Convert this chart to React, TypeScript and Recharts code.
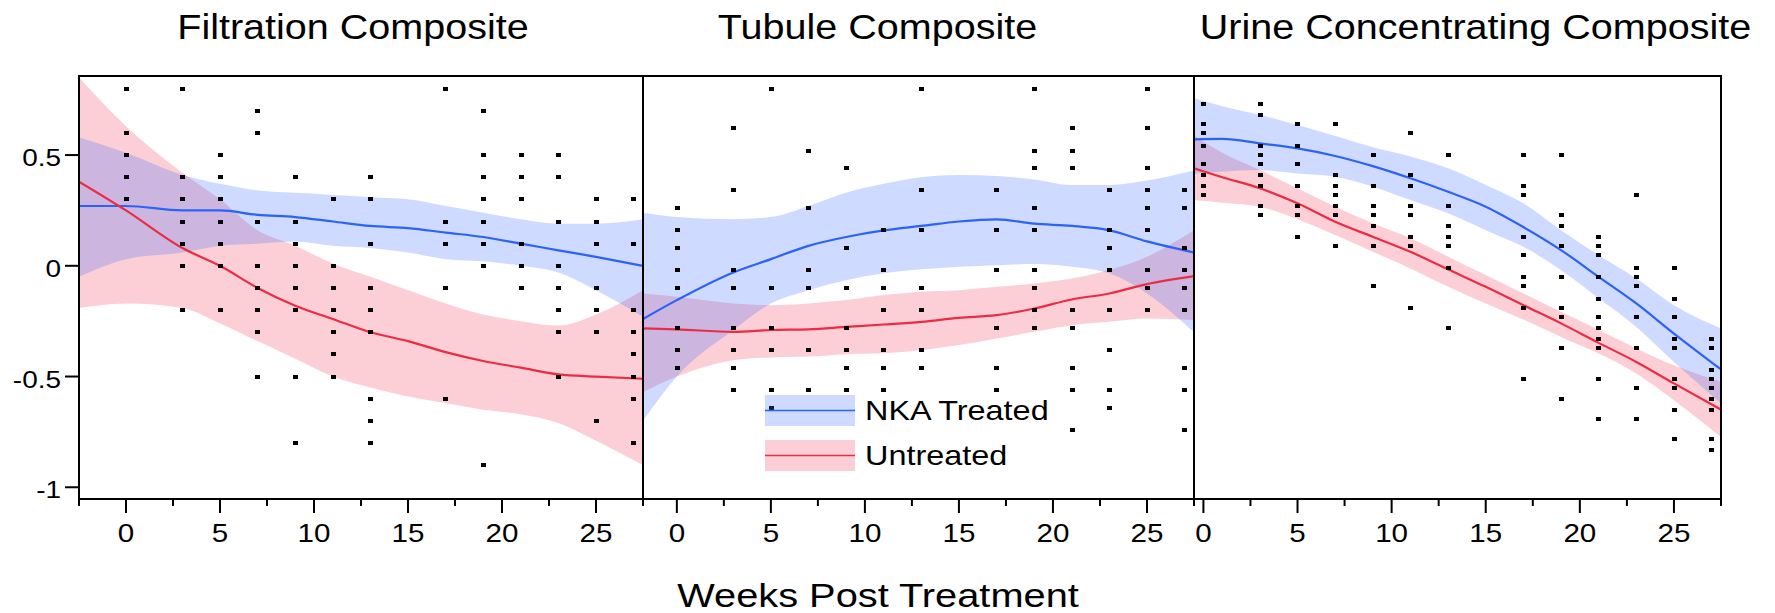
import React from 'react';
import { ComposedChart, Line, Area, Scatter, XAxis, YAxis, ReferenceArea, Legend } from 'recharts';

const FONT = '"Liberation Sans", Arial, Helvetica, sans-serif';

// shared y range of the three panels
const Y_MIN = -1.053;
const Y_MAX = 0.857;
const Y_TICKS = [-1, -0.5, 0, 0.5];
const X_TICKS = [-2.5, 0, 2.5, 5, 7.5, 10, 12.5, 15, 17.5, 20, 22.5, 25, 27.5];

// weeks at which the observations were taken
const pointWeeks = [0, 3, 5, 7, 9, 11, 13, 17, 19, 21, 23, 25, 27];

// ---- Filtration Composite ----
const filtrationFitWeeks = [-2.5, 0, 3, 5, 7, 9, 11, 13, 15, 17, 19, 21, 23, 25, 27.5];
const filtrationTreated = [0.27, 0.27, 0.25, 0.25, 0.23, 0.22, 0.2, 0.18, 0.17, 0.15, 0.13, 0.1, 0.07, 0.04, 0.0];
const filtrationTreatedLo = [-0.05, 0.03, 0.06, 0.09, 0.1, 0.11, 0.09, 0.08, 0.06, 0.03, 0.02, 0.0, -0.03, -0.11, -0.23];
const filtrationTreatedHi = [0.58, 0.51, 0.41, 0.37, 0.34, 0.33, 0.32, 0.31, 0.3, 0.27, 0.24, 0.21, 0.19, 0.19, 0.21];
const filtrationUntreated = [0.38, 0.25, 0.08, 0.0, -0.1, -0.18, -0.24, -0.3, -0.34, -0.39, -0.43, -0.46, -0.49, -0.5, -0.51];
const filtrationUntreatedLo = [-0.19, -0.17, -0.19, -0.26, -0.34, -0.42, -0.5, -0.55, -0.59, -0.62, -0.65, -0.67, -0.71, -0.79, -0.9];
const filtrationUntreatedHi = [0.85, 0.63, 0.42, 0.3, 0.16, 0.09, 0.01, -0.05, -0.11, -0.17, -0.22, -0.25, -0.27, -0.22, -0.11];
const filtrationPoints = [
  [0.8, 0.6, 0.5, 0.4, 0.3],
  [0.8, 0.4, 0.3, 0.2, 0.1, 0, -0.2],
  [0.5, 0.4, 0.3, 0.2, 0.1, 0, -0.2],
  [0.7, 0.6, 0.2, 0, -0.1, -0.2, -0.3, -0.5],
  [0.4, 0.2, 0.1, 0, -0.1, -0.2, -0.5, -0.8],
  [0.3, 0, -0.1, -0.2, -0.3, -0.4, -0.5],
  [0.4, 0.3, 0.1, -0.1, -0.2, -0.3, -0.6, -0.7, -0.8],
  [0.8, 0.2, 0.1, -0.1, -0.6],
  [0.7, 0.5, 0.4, 0.3, 0.2, 0.1, 0, -0.9],
  [0.5, 0.4, 0.3, 0.1, 0, -0.1],
  [0.5, 0.4, 0.2, 0, -0.1, -0.2, -0.3, -0.5],
  [0.3, 0.2, 0.1, -0.1, -0.2, -0.3, -0.7],
  [0.3, 0.1, -0.2, -0.3, -0.4, -0.5, -0.6, -0.8],
];

// ---- Tubule Composite ----
const tubuleFitWeeks = [-1.8, 0, 3, 5, 7, 9, 11, 13, 15, 17, 19, 21, 23, 25, 27.5];
const tubuleTreated = [-0.24, -0.155, -0.03, 0.03, 0.09, 0.13, 0.16, 0.18, 0.2, 0.21, 0.19, 0.18, 0.16, 0.11, 0.06];
const tubuleTreatedLo = [-0.7, -0.5, -0.29, -0.17, -0.11, -0.065, -0.034, -0.016, -0.004, 0.003, 0.008, -0.004, -0.034, -0.125, -0.3];
const tubuleTreatedHi = [0.24, 0.22, 0.21, 0.22, 0.27, 0.33, 0.37, 0.4, 0.41, 0.405, 0.39, 0.365, 0.365, 0.385, 0.43];
const tubuleUntreated = [-0.283, -0.287, -0.298, -0.29, -0.287, -0.276, -0.265, -0.253, -0.235, -0.223, -0.193, -0.152, -0.125, -0.083, -0.047];
const tubuleUntreatedLo = [-0.57, -0.5, -0.426, -0.414, -0.41, -0.399, -0.395, -0.381, -0.358, -0.328, -0.298, -0.268, -0.253, -0.238, -0.245];
const tubuleUntreatedHi = [-0.125, -0.14, -0.17, -0.178, -0.17, -0.155, -0.132, -0.117, -0.11, -0.095, -0.08, -0.057, -0.019, 0.041, 0.161];
const tubulePoints = [
  [0.26, 0.16, 0.08, -0.02, -0.1, -0.28, -0.38, -0.46],
  [0.62, 0.34, -0.02, -0.1, -0.28, -0.38, -0.46, -0.56],
  [0.8, -0.1, -0.28, -0.38, -0.56, -0.64],
  [0.52, 0.26, -0.02, -0.1, -0.38, -0.56],
  [0.44, 0.08, -0.1, -0.28, -0.38, -0.46, -0.56],
  [0.16, -0.02, -0.1, -0.2, -0.38, -0.46, -0.56],
  [0.8, 0.34, 0.16, -0.1, -0.2, -0.38, -0.46],
  [0.34, 0.16, -0.02, -0.28, -0.46, -0.56],
  [0.8, 0.52, 0.44, 0.26, 0.16, -0.02, -0.1, -0.2, -0.28],
  [0.62, 0.52, 0.44, -0.2, -0.28, -0.46, -0.56, -0.74],
  [0.34, 0.16, 0.08, -0.02, -0.2, -0.38, -0.56, -0.64],
  [0.8, 0.62, 0.44, 0.34, 0.26, 0.16, -0.02, -0.1, -0.2],
  [0.34, 0.26, 0.08, -0.02, -0.1, -0.2, -0.46, -0.56, -0.74],
];

// ---- Urine Concentrating Composite ----
const urineFitWeeks = [-0.5, 1, 3, 5, 7, 9, 11, 13, 15, 17, 19, 21, 23, 25, 27.5];
const urineTreated = [0.571, 0.573, 0.553, 0.53, 0.496, 0.45, 0.395, 0.334, 0.267, 0.175, 0.071, -0.05, -0.17, -0.306, -0.468];
const urineTreatedLo = [0.417, 0.425, 0.432, 0.417, 0.402, 0.357, 0.297, 0.237, 0.161, 0.086, -0.019, -0.147, -0.276, -0.434, -0.622];
const urineTreatedHi = [0.756, 0.72, 0.681, 0.636, 0.586, 0.535, 0.493, 0.44, 0.365, 0.282, 0.161, 0.048, -0.057, -0.178, -0.283];
const urineUntreated = [0.44, 0.4, 0.35, 0.282, 0.199, 0.131, 0.063, -0.016, -0.095, -0.178, -0.26, -0.348, -0.434, -0.531, -0.649];
const urineUntreatedLo = [0.297, 0.285, 0.267, 0.21, 0.139, 0.063, -0.012, -0.095, -0.17, -0.242, -0.321, -0.396, -0.486, -0.607, -0.773];
const urineUntreatedHi = [0.59, 0.51, 0.432, 0.35, 0.267, 0.192, 0.124, 0.041, -0.042, -0.125, -0.208, -0.29, -0.373, -0.449, -0.524];
const urinePoints = [
  [0.73, 0.64, 0.6, 0.54, 0.46, 0.41, 0.36, 0.32],
  [0.73, 0.68, 0.54, 0.5, 0.46, 0.41, 0.36, 0.27, 0.23],
  [0.64, 0.54, 0.46, 0.36, 0.27, 0.23, 0.13],
  [0.64, 0.41, 0.36, 0.32, 0.27, 0.23, 0.09],
  [0.5, 0.36, 0.27, 0.23, 0.18, 0.09, -0.09],
  [0.6, 0.41, 0.36, 0.27, 0.23, 0.13, 0.09, -0.19],
  [0.5, 0.27, 0.18, 0.13, 0.09, -0.01, -0.28],
  [0.5, 0.36, 0.32, 0.13, 0.05, -0.05, -0.09, -0.19, -0.51],
  [0.5, 0.23, 0.18, 0.09, -0.05, -0.19, -0.23, -0.37, -0.6],
  [0.13, 0.09, 0.05, -0.05, -0.15, -0.23, -0.28, -0.33, -0.37, -0.51, -0.69],
  [0.32, -0.01, -0.05, -0.09, -0.23, -0.37, -0.55, -0.69],
  [-0.01, -0.15, -0.23, -0.33, -0.37, -0.51, -0.55, -0.65, -0.78],
  [-0.33, -0.37, -0.47, -0.51, -0.55, -0.6, -0.65, -0.78, -0.83],
];

const BLUE_LINE = '#2b63f6';
const BLUE_BAND = '#3d6dff';
const RED_LINE = '#ea2c45';
const RED_BAND = '#f5405a';
const BAND_OPACITY = 0.25;

const legendItems = [
  { name: 'NKA Treated', line: BLUE_LINE, band: BLUE_BAND },
  { name: 'Untreated', line: RED_LINE, band: RED_BAND },
];

const PLOT_TOP = 76;
const PLOT_BOTTOM = 499;
const CHART_H = 613;
const PAD = 4;

const XTick = (props: any) => {
  const { x, y, payload } = props;
  const v = payload.value;
  const major = v % 5 === 0;
  return (
    <g>
      <line x1={x} x2={x} y1={y} y2={y + (major ? 14 : 7)} stroke="#000" strokeWidth={2} />
      {major && (
        <text
          transform={`translate(${x},${y + 43}) scale(1.16,1)`}
          textAnchor="middle"
          fontSize={25.5}
          fontFamily={FONT}
          fill="#000"
        >
          {v}
        </text>
      )}
    </g>
  );
};

const YTick = (props: any) => {
  const { x, y, payload } = props;
  return (
    <g>
      <line x1={x - 14} x2={x} y1={y} y2={y} stroke="#000" strokeWidth={2} />
      <text
        transform={`translate(${x - 18},${y + 11}) scale(1.2,1)`}
        textAnchor="end"
        fontSize={23.3}
        fontFamily={FONT}
        fill="#000"
      >
        {payload.value}
      </text>
    </g>
  );
};

// small black square marker, snapped to whole pixels so it stays crisp
const Square = (props: any) => (
  <rect
    x={Math.round(props.cx - 2.25)}
    y={Math.round(props.cy - 2)}
    width={4.5}
    height={4}
    fill="#000"
    shapeRendering="crispEdges"
  />
);

const LegendBox = () => (
  <svg width={320} height={80} style={{ display: 'block' }}>
    {legendItems.map((it, i) => (
      <g key={it.name} transform={`translate(0,${i * 45})`}>
        <rect x={0} y={0} width={90} height={31} fill={it.band} fillOpacity={BAND_OPACITY} />
        <line x1={0} x2={90} y1={15.5} y2={15.5} stroke={it.line} strokeWidth={1.5} />
        <text
          transform="translate(100,25) scale(1.2,1)"
          fontSize={27}
          fontFamily={FONT}
          fill="#000"
        >
          {it.name}
        </text>
      </g>
    ))}
  </svg>
);

type PanelProps = {
  left: number;
  plotWidth: number;
  lo: number;
  fitWeeks: number[];
  treated: number[];
  treatedLo: number[];
  treatedHi: number[];
  untreated: number[];
  untreatedLo: number[];
  untreatedHi: number[];
  points: number[][];
  yAxis?: boolean;
  legend?: boolean;
};

function Panel(p: PanelProps) {
  const fit = p.fitWeeks.map((w, i) => ({
    x: w,
    treated: p.treated[i],
    treatedBand: [p.treatedLo[i], p.treatedHi[i]],
    untreated: p.untreated[i],
    untreatedBand: [p.untreatedLo[i], p.untreatedHi[i]],
  }));
  const scatter = pointWeeks.flatMap((w, i) => p.points[i].map((v) => ({ x: w, y: v })));
  const yw = p.yAxis ? 79 : 0;
  const width = yw + p.plotWidth + (p.yAxis ? 0 : PAD) + PAD;
  const ticks = X_TICKS.filter((t) => t >= p.lo - 1e-6 && t <= 27.5 + 1e-6);

  return (
    <div style={{ position: 'absolute', left: p.left - (p.yAxis ? 0 : PAD), top: 0 }}>
      <ComposedChart
        width={width}
        height={CHART_H}
        data={fit}
        margin={{ top: PLOT_TOP, right: PAD, bottom: 0, left: p.yAxis ? 0 : PAD }}
      >
        <XAxis
          type="number"
          dataKey="x"
          domain={[p.lo, 27.5]}
          ticks={ticks}
          interval={0}
          tickSize={0}
          tickMargin={0}
          tickLine={false}
          axisLine={false}
          tick={XTick}
          height={CHART_H - PLOT_BOTTOM}
          allowDataOverflow
        />
        <YAxis
          type="number"
          dataKey="y"
          domain={[Y_MIN, Y_MAX]}
          ticks={Y_TICKS}
          interval={0}
          tickSize={0}
          tickMargin={0}
          tickLine={false}
          axisLine={false}
          tick={YTick}
          width={yw}
          hide={!p.yAxis}
          allowDataOverflow
        />
        <Area
          type="monotone"
          dataKey="untreatedBand"
          stroke="none"
          fill={RED_BAND}
          fillOpacity={BAND_OPACITY}
          isAnimationActive={false}
          activeDot={false}
        />
        <Area
          type="monotone"
          dataKey="treatedBand"
          stroke="none"
          fill={BLUE_BAND}
          fillOpacity={BAND_OPACITY}
          isAnimationActive={false}
          activeDot={false}
        />
        <Line
          type="monotone"
          dataKey="treated"
          stroke={BLUE_LINE}
          strokeWidth={2.2}
          dot={false}
          activeDot={false}
          isAnimationActive={false}
        />
        <Line
          type="monotone"
          dataKey="untreated"
          stroke={RED_LINE}
          strokeWidth={2.2}
          dot={false}
          activeDot={false}
          isAnimationActive={false}
        />
        <Scatter data={scatter} shape={Square} isAnimationActive={false} />
        <ReferenceArea
          x1={p.lo}
          x2={27.5}
          y1={Y_MIN}
          y2={Y_MAX}
          fill="none"
          stroke="#000"
          strokeWidth={2}
          ifOverflow="visible"
          zIndex={1500}
        />
        {p.legend && (
          <Legend
            layout="horizontal"
            verticalAlign="middle"
            align="center"
            wrapperStyle={{ left: 765 - (p.left - PAD), top: 395, width: 320, height: 80 }}
            content={() => <LegendBox />}
          />
        )}
      </ComposedChart>
    </div>
  );
}

const titles = [
  { text: 'Filtration Composite', cx: 353 },
  { text: 'Tubule Composite', cx: 877.5 },
  { text: 'Urine Concentrating Composite', cx: 1475.5 },
];

export default function App() {
  return (
    <div
      style={{
        position: 'absolute',
        left: 0,
        top: 0,
        width: 1775,
        height: 613,
        background: '#fff',
        overflow: 'hidden',
      }}
    >
      <svg width={1775} height={613} style={{ position: 'absolute', left: 0, top: 0 }}>
        {titles.map((t) => (
          <text
            key={t.text}
            transform={`translate(${t.cx},38.5) scale(1.13,1)`}
            textAnchor="middle"
            fontSize={35}
            fontFamily={FONT}
            fill="#000"
          >
            {t.text}
          </text>
        ))}
        <text
          transform="translate(878,606.5) scale(1.17,1)"
          textAnchor="middle"
          fontSize={34}
          fontFamily={FONT}
          fill="#000"
        >
          Weeks Post Treatment
        </text>
      </svg>
      <Panel
        left={0}
        plotWidth={564}
        lo={-2.5}
        fitWeeks={filtrationFitWeeks}
        treated={filtrationTreated}
        treatedLo={filtrationTreatedLo}
        treatedHi={filtrationTreatedHi}
        untreated={filtrationUntreated}
        untreatedLo={filtrationUntreatedLo}
        untreatedHi={filtrationUntreatedHi}
        points={filtrationPoints}
        yAxis
      />
      <Panel
        left={643}
        plotWidth={551}
        lo={-1.8}
        fitWeeks={tubuleFitWeeks}
        treated={tubuleTreated}
        treatedLo={tubuleTreatedLo}
        treatedHi={tubuleTreatedHi}
        untreated={tubuleUntreated}
        untreatedLo={tubuleUntreatedLo}
        untreatedHi={tubuleUntreatedHi}
        points={tubulePoints}
        legend
      />
      <Panel
        left={1194}
        plotWidth={527}
        lo={-0.5}
        fitWeeks={urineFitWeeks}
        treated={urineTreated}
        treatedLo={urineTreatedLo}
        treatedHi={urineTreatedHi}
        untreated={urineUntreated}
        untreatedLo={urineUntreatedLo}
        untreatedHi={urineUntreatedHi}
        points={urinePoints}
      />
    </div>
  );
}
